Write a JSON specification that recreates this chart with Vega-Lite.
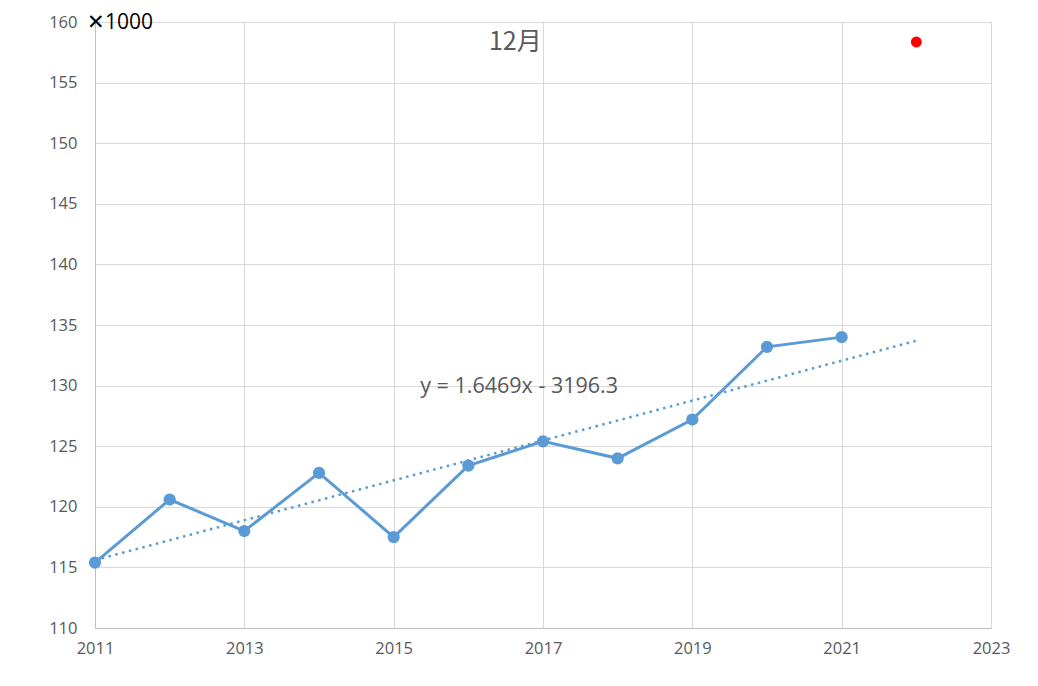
{
  "$schema": "https://vega.github.io/schema/vega-lite/v6.json",
  "width": 896,
  "height": 606,
  "autosize": {"type": "none"},
  "padding": {"left": 95, "top": 22, "right": 47, "bottom": 58},
  "background": "white",
  "config": {
    "view": {"stroke": null},
    "axis": {
      "labelFont": "Open Sans",
      "labelFontSize": 16.5,
      "labelColor": "#595959",
      "gridColor": "#d9d9d9",
      "gridWidth": 1,
      "domainColor": "#bfbfbf",
      "ticks": false,
      "labelFlush": false,
      "title": null
    },
    "text": {"font": "Open Sans"}
  },
  "layer": [
    {
      "data": {
        "values": [
          {"year": 2011, "value": 115.4},
          {"year": 2012, "value": 120.6},
          {"year": 2013, "value": 118.0},
          {"year": 2014, "value": 122.8},
          {"year": 2015, "value": 117.5},
          {"year": 2016, "value": 123.4},
          {"year": 2017, "value": 125.4},
          {"year": 2018, "value": 124.0},
          {"year": 2019, "value": 127.2},
          {"year": 2020, "value": 133.2},
          {"year": 2021, "value": 134.0}
        ]
      },
      "mark": {
        "type": "line",
        "color": "#5b9bd5",
        "strokeWidth": 3,
        "point": {"filled": true, "size": 150, "color": "#5b9bd5", "opacity": 1}
      },
      "encoding": {
        "x": {
          "field": "year",
          "type": "quantitative",
          "scale": {"domain": [2011, 2023], "nice": false, "zero": false},
          "axis": {
            "values": [2011, 2013, 2015, 2017, 2019, 2021, 2023],
            "format": "d",
            "labelPadding": 12
          }
        },
        "y": {
          "field": "value",
          "type": "quantitative",
          "scale": {"domain": [110, 160], "nice": false, "zero": false},
          "axis": {
            "values": [110, 115, 120, 125, 130, 135, 140, 145, 150, 155, 160],
            "labelPadding": 18
          }
        }
      }
    },
    {
      "data": {
        "values": [
          {"year": 2011, "value": 115.6},
          {"year": 2022, "value": 133.7}
        ]
      },
      "mark": {
        "type": "line",
        "color": "#5b9bd5",
        "strokeWidth": 2.5,
        "strokeDash": [2.5, 4.5]
      },
      "encoding": {
        "x": {"field": "year", "type": "quantitative"},
        "y": {"field": "value", "type": "quantitative"}
      }
    },
    {
      "data": {"values": [{"year": 2022, "value": 158.35}]},
      "mark": {"type": "point", "filled": true, "size": 120, "color": "#ff0000", "opacity": 1},
      "encoding": {
        "x": {"field": "year", "type": "quantitative"},
        "y": {"field": "value", "type": "quantitative"}
      }
    },
    {
      "data": {"values": [{"label": "y = 1.6469x - 3196.3", "year": 2016.68, "value": 129.9}]},
      "mark": {"type": "text", "fontSize": 21.5, "color": "#595959", "align": "center", "baseline": "middle"},
      "encoding": {
        "x": {"field": "year", "type": "quantitative"},
        "y": {"field": "value", "type": "quantitative"},
        "text": {"field": "label"}
      }
    },
    {
      "data": {"values": [{"label": "12月", "year": 2016.63, "value": 158.35}]},
      "mark": {"type": "text", "fontSize": 25, "color": "#595959", "align": "center", "baseline": "middle", "font": "Noto Sans CJK JP"},
      "encoding": {
        "x": {"field": "year", "type": "quantitative"},
        "y": {"field": "value", "type": "quantitative"},
        "text": {"field": "label"}
      }
    },
    {
      "data": {"values": [{"label": "✕1000", "year": 2011, "value": 160}]},
      "mark": {"type": "text", "fontSize": 21, "color": "#000000", "align": "left", "baseline": "middle", "dx": -8, "dy": 1},
      "encoding": {
        "x": {"field": "year", "type": "quantitative"},
        "y": {"field": "value", "type": "quantitative"},
        "text": {"field": "label"}
      }
    }
  ]
}
